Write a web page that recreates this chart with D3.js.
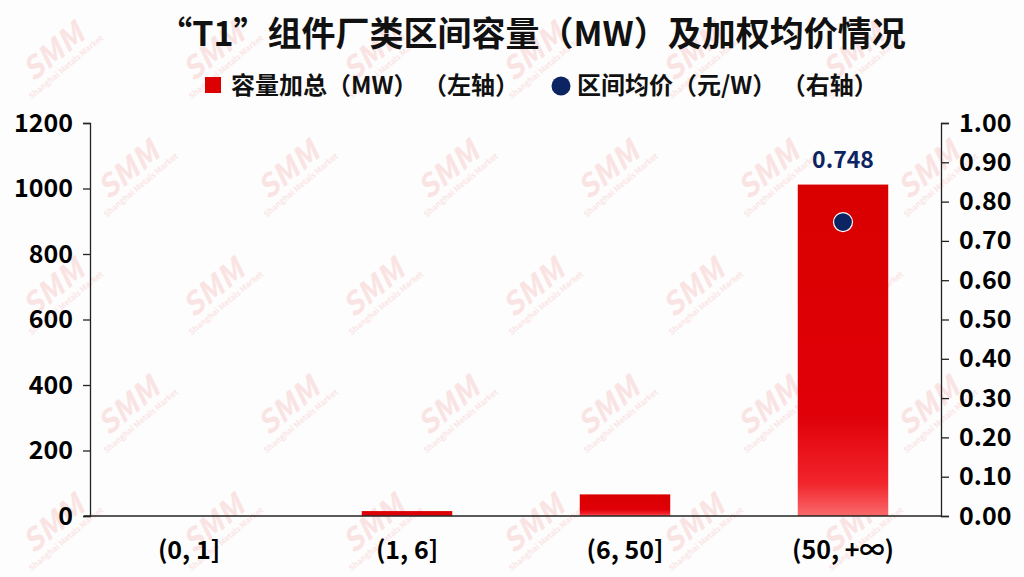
<!DOCTYPE html>
<html>
<head>
<meta charset="utf-8">
<script src="https://cdn.jsdelivr.net/npm/d3@7"></script>
<style>
  body { margin: 0; background: #fff; }
  svg { display: block; font-family: "Noto Sans CJK SC", "Noto Sans", sans-serif; }
</style>
</head>
<body>
<script>
// data
const categories = ['(0, 1]', '(1, 6]', '(6, 50]', '(50, +∞)']
const capacity = [0, 15, 66, 1012]          // MW, left axis
const avgPrice = [null, null, null, 0.748]  // 元/W, right axis
const leftTicks = [0, 200, 400, 600, 800, 1000, 1200]
const rightTicks = [0, 0.1, 0.2, 0.3, 0.4, 0.5, 0.6, 0.7, 0.8, 0.9, 1.0]

const title = '“T1”组件厂类区间容量（MW）及加权均价情况'
const legendBar = '容量加总（MW） （左轴）'
const legendDot = '区间均价（元/W） （右轴）'

const width = 1024, height = 577
const plot = {left: 90, right: 941, top: 123, bottom: 516}

const svg = d3.select('body').append('svg')
    .attr('width', width)
    .attr('height', height)

svg.append('rect').attr('width', width).attr('height', height).attr('fill', '#fdfdfd')

// faint SMM watermarks, kept inside the frame
const wm = svg.append('g').attr('class', 'watermark')
for (let r = 0; r < 5; r++) {
  for (let c = 0; c < 6; c++) {
    const wx = 60 + c * 160 + (r % 2 ? 75 : 0)
    const wy = 60 + r * 118
    if (wx > 985) continue
    const g = wm.append('g').attr('transform', 'translate(' + wx + ',' + wy + ') rotate(-40)')
    g.append('text').attr('text-anchor', 'middle')
      .attr('font-size', 30).attr('font-weight', 'bold').attr('font-style', 'italic')
      .attr('fill', '#fae3e3').text('SMM')
    g.append('text').attr('text-anchor', 'middle').attr('y', 12)
      .attr('font-size', 8).attr('font-weight', 'bold')
      .attr('fill', '#fae6e6').text('Shanghai Metals Market')
  }
}

const x = d3.scaleBand()
    .domain(categories)
    .range([80, 952])
    .paddingInner(0.585)
    .paddingOuter(0.2925)

const yL = d3.scaleLinear().domain([0, 1200]).range([plot.bottom, plot.top])
const yR = d3.scaleLinear().domain([0, 1]).range([plot.bottom, plot.top])

const defs = svg.append('defs')
const grad = defs.append('linearGradient').attr('id', 'barGrad')
    .attr('x1', 0).attr('y1', 0).attr('x2', 0).attr('y2', 1)
grad.append('stop').attr('offset', '0%').attr('stop-color', '#d90000')
grad.append('stop').attr('offset', '70%').attr('stop-color', '#e00008')
grad.append('stop').attr('offset', '90%').attr('stop-color', '#f2242c')
grad.append('stop').attr('offset', '100%').attr('stop-color', '#f86a6a')

// title
svg.append('text')
  .attr('x', 532).attr('y', 46)
  .attr('text-anchor', 'middle')
  .attr('font-size', 34).attr('font-weight', 'bold').attr('fill', '#111')
  .text(title)

// legend
const leg = svg.append('g').attr('font-size', 24).attr('font-weight', 'bold').attr('fill', '#111')
leg.append('rect').attr('x', 205).attr('y', 77).attr('width', 16).attr('height', 16).attr('fill', '#dd0000')
leg.append('text').attr('x', 231).attr('y', 94).text(legendBar)
leg.append('circle').attr('cx', 561).attr('cy', 86).attr('r', 9.5).attr('fill', '#0c2461')
leg.append('text').attr('x', 577).attr('y', 94).text(legendDot)

// axes
const axisL = svg.append('g')
  .attr('transform', 'translate(' + plot.left + ',0)')
  .call(d3.axisLeft(yL).tickValues(leftTicks).tickSize(7).tickPadding(10).tickFormat(d3.format('d')))
const axisR = svg.append('g')
  .attr('transform', 'translate(' + plot.right + ',0)')
  .call(d3.axisRight(yR).tickValues(rightTicks).tickSize(8).tickPadding(10).tickFormat(d3.format('.2f')))

;[axisL, axisR].forEach(function (a) {
  a.select('.domain').attr('stroke', '#222').attr('stroke-width', 1.3)
  a.selectAll('.tick line').attr('stroke', '#222').attr('stroke-width', 1.3)
  a.selectAll('text')
    .attr('font-size', 25).attr('font-weight', 'bold').attr('fill', '#000')
    .attr('font-family', '"Noto Sans CJK SC", "Noto Sans", sans-serif')
})

// bars
svg.append('g').selectAll('rect')
  .data(capacity)
  .enter().append('rect')
  .attr('x', function (d, i) { return x(categories[i]) })
  .attr('width', x.bandwidth())
  .attr('y', function (d) { return yL(d) })
  .attr('height', function (d) { return plot.bottom - yL(d) })
  .attr('fill', 'url(#barGrad)')

// x baseline and category labels
svg.append('line')
  .attr('x1', 84).attr('x2', plot.right)
  .attr('y1', plot.bottom).attr('y2', plot.bottom)
  .attr('stroke', '#222').attr('stroke-width', 1.3)

svg.append('g').selectAll('text')
  .data(categories)
  .enter().append('text')
  .attr('x', function (d) { return x(d) + x.bandwidth() / 2 })
  .attr('y', 559)
  .attr('text-anchor', 'middle')
  .attr('font-size', 25).attr('font-weight', 'bold').attr('fill', '#000')
  .text(function (d) { return d })

// average price points
const pts = avgPrice.map(function (v, i) { return {c: categories[i], v: v} })
    .filter(function (d) { return d.v != null })

svg.append('g').selectAll('circle')
  .data(pts)
  .enter().append('circle')
  .attr('cx', function (d) { return x(d.c) + x.bandwidth() / 2 })
  .attr('cy', function (d) { return yR(d.v) })
  .attr('r', 9.5)
  .attr('fill', '#0c2461')
  .attr('stroke', '#fff').attr('stroke-width', 1.2)

svg.append('g').selectAll('text')
  .data(pts)
  .enter().append('text')
  .attr('x', function (d) { return x(d.c) + x.bandwidth() / 2 })
  .attr('y', 168)
  .attr('text-anchor', 'middle')
  .attr('font-size', 23).attr('font-weight', 'bold').attr('fill', '#0c2461')
  .text(function (d) { return d3.format('.3f')(d.v) })
</script>
</body>
</html>
